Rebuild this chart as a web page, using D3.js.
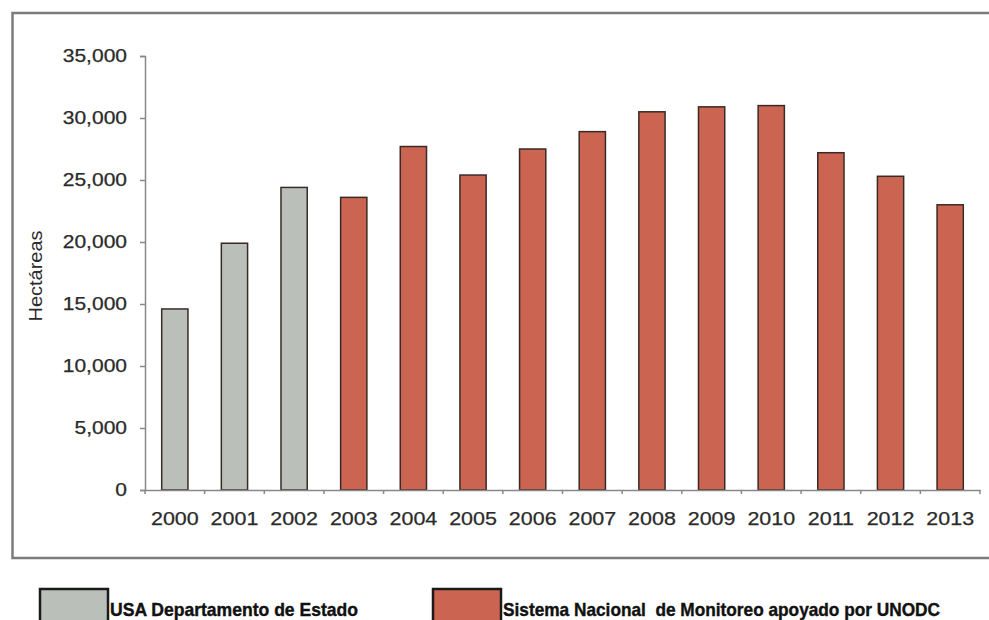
<!DOCTYPE html>
<html>
<head>
<meta charset="utf-8">
<script src="https://cdn.jsdelivr.net/npm/d3@7"></script>
<style>
  html, body { margin: 0; padding: 0; background: #ffffff; }
  svg { display: block; }
  text { font-family: "Liberation Sans", Arial, sans-serif; }
</style>
</head>
<body>
<svg id="chart" width="989" height="620"></svg>
<script>
// ---- data ----
const years = ["2000","2001","2002","2003","2004","2005","2006","2007","2008","2009","2010","2011","2012","2013"];
const hectares = [14600, 19900, 24400, 23600, 27700, 25400, 27500, 28900, 30500, 30900, 31000, 27200, 25300, 23000];
const sources = ["usa","usa","usa","unodc","unodc","unodc","unodc","unodc","unodc","unodc","unodc","unodc","unodc","unodc"];
const yTicks = [0, 5000, 10000, 15000, 20000, 25000, 30000, 35000];
const legendKeys = ["usa", "unodc"];
const legendLabels = ["USA Departamento de Estado", "Sistema Nacional  de Monitoreo apoyado por UNODC"];
const yTitle = "Hectáreas";

// ---- styles ----
const colors = { usa: "#bac0b9", unodc: "#cc6452" };
const svg = d3.select("#chart");

// frame
svg.append("rect")
  .attr("x", 12.5).attr("y", 13).attr("width", 1000).attr("height", 545)
  .attr("fill", "none").attr("stroke", "#7b7b7b").attr("stroke-width", 2.5);

const x = d3.scaleBand().domain(years).range([145, 980]).paddingInner(0.56).paddingOuter(0.28);
const y = d3.scaleLinear().domain([0, 35000]).range([490, 56]);

// bars
svg.append("g").selectAll("rect")
  .data(years.map((d, i) => ({ year: d, v: hectares[i], s: sources[i] })))
  .join("rect")
  .attr("x", d => x(d.year))
  .attr("y", d => y(d.v))
  .attr("width", x.bandwidth())
  .attr("height", d => y(0) - y(d.v))
  .attr("fill", d => colors[d.s])
  .attr("stroke", "#3a2a26")
  .attr("stroke-width", 1.5);

// y axis
const yAxis = svg.append("g").attr("transform", "translate(145,0)")
  .call(d3.axisLeft(y).tickValues(yTicks).tickFormat(d3.format(",")).tickSize(5).tickPadding(13));
yAxis.select(".domain").attr("stroke", "#888").attr("stroke-width", 1.5);
yAxis.selectAll(".tick line").attr("stroke", "#888").attr("stroke-width", 1.5);
yAxis.selectAll(".tick text")
  .attr("font-size", 17.5).attr("fill", "#2a2a2a")
  .attr("font-family", "'Liberation Sans', Arial, sans-serif")
  .attr("stroke", "#2a2a2a").attr("stroke-width", 0.25)
  .each(function () {
    const w = this.getComputedTextLength();
    d3.select(this).attr("textLength", w * 1.2).attr("lengthAdjust", "spacingAndGlyphs");
  });

// x axis (labels)
const xAxis = svg.append("g").attr("transform", "translate(0,490)")
  .call(d3.axisBottom(x).tickSize(0).tickPadding(22));
xAxis.select(".domain").attr("stroke", "#888").attr("stroke-width", 1.5);
xAxis.selectAll(".tick text")
  .attr("font-size", 19).attr("fill", "#2a2a2a")
  .attr("font-family", "'Liberation Sans', Arial, sans-serif")
  .attr("stroke", "#2a2a2a").attr("stroke-width", 0.25)
  .each(function () {
    const w = this.getComputedTextLength();
    d3.select(this).attr("textLength", w * 1.13).attr("lengthAdjust", "spacingAndGlyphs");
  });

// x boundary ticks
const gap = (x.step() - x.bandwidth()) / 2;
const bounds = years.map(d => x(d) - gap).concat([x(years[years.length - 1]) + x.bandwidth() + gap]);
svg.append("g").selectAll("line").data(bounds).join("line")
  .attr("x1", d => d).attr("x2", d => d)
  .attr("y1", 490).attr("y2", 494)
  .attr("stroke", "#888").attr("stroke-width", 1.5);

// y title
svg.append("text")
  .attr("transform", "translate(42,276) rotate(-90)")
  .attr("text-anchor", "middle")
  .attr("font-size", 19).attr("fill", "#2a2a2a")
  .attr("textLength", 91).attr("lengthAdjust", "spacingAndGlyphs")
  .text(yTitle);

// legend
const legendX = [40, 433];
const legendTextEnd = [358, 940];
const lg = svg.append("g");
legendKeys.forEach((k, i) => {
  lg.append("rect")
    .attr("x", legendX[i]).attr("y", 589).attr("width", 68).attr("height", 45)
    .attr("fill", colors[k]).attr("stroke", "#1a1a1a").attr("stroke-width", 2.5);
  const tx = legendX[i] + 70;
  lg.append("text")
    .attr("x", tx).attr("y", 616)
    .attr("font-size", 19).attr("font-weight", "bold").attr("fill", "#111")
    .attr("stroke", "#111").attr("stroke-width", 0.4)
    .style("white-space", "pre")
    .attr("textLength", legendTextEnd[i] - tx).attr("lengthAdjust", "spacingAndGlyphs")
    .text(legendLabels[i]);
});
</script>
</body>
</html>
